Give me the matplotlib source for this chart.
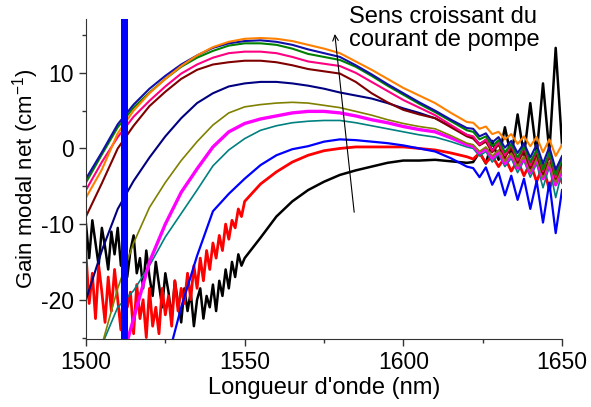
import numpy as np
import matplotlib
matplotlib.use('Agg')
import matplotlib.pyplot as plt
from matplotlib.ticker import MultipleLocator

plt.rcParams['font.family'] = ['Liberation Sans', 'DejaVu Sans']
plt.rcParams['mathtext.default'] = 'regular'
plt.rcParams['axes.unicode_minus'] = False

# longueurs d'onde (nm)
lam = [1500, 1505, 1510, 1515, 1520, 1525, 1530, 1535, 1540, 1545, 1550, 1555, 1560,
       1565, 1570, 1575, 1580, 1585, 1590, 1595, 1600, 1605, 1610, 1615, 1620]
lam_queue = [1622, 1624, 1626, 1628, 1630, 1632, 1634, 1636, 1638, 1640, 1642, 1644,
             1646, 1648, 1650]
lam_fin = np.arange(1500, 1550)

# gain modal net (cm-1), du courant le plus fort au plus faible
orange = [-6.5, -2.8, 2.0, 5.0, 7.3, 9.2, 10.9, 12.3, 13.4, 14.1, 14.5, 14.6, 14.5, 14.2,
          13.7, 13.2, 12.6, 11.5, 10.4, 9.2, 8.0, 7.0, 6.0, 4.7, 3.5]
orange_q = [3.4, 2.6, 2.9, 1.9, 2.2, 1.2, 1.9, 0.6, 1.6, 0.3, 1.5, -0.5, 1.2, -1.0, 0.5]

bleu_fonce = [-4.0, -0.5, 3.2, 5.8, 7.9, 9.6, 11.1, 12.3, 13.3, 13.9, 14.2, 14.3, 14.1,
              13.7, 13.1, 12.6, 12.1, 11.0, 9.8, 8.5, 7.3, 6.1, 5.0, 3.8, 2.7]
bleu_fonce_q = [2.6, 1.6, 2.0, 0.8, 1.5, 0.1, 1.0, -0.6, 0.7, -1.2, 0.5, -2.0, 0.2, -2.8, -1.0]

vert = [-4.5, -0.8, 2.8, 5.4, 7.4, 9.2, 10.8, 12.0, 12.9, 13.6, 13.9, 13.9, 13.7, 13.2,
        12.5, 12.1, 11.7, 10.8, 9.6, 8.3, 7.1, 5.9, 4.8, 3.6, 2.4]
vert_q = [2.2, 1.2, 1.6, 0.3, 1.1, -0.5, 0.6, -1.2, 0.3, -1.8, -0.2, -2.8, -0.5, -3.5, -1.5]

rose = [-5.5, -1.8, 1.5, 4.2, 6.3, 8.2, 9.9, 11.1, 12.0, 12.6, 12.8, 12.8, 12.6, 12.1,
        11.5, 11.2, 10.9, 10.0, 8.8, 7.6, 6.4, 5.4, 4.4, 3.1, 1.8]
rose_q = [1.6, 0.5, 1.2, -0.3, 0.8, -0.9, 0.5, -1.6, 0.2, -2.2, -0.3, -3.0, -0.6, -3.8, -1.2]

bordeaux = [-9.0, -4.6, 0.0, 3.0, 5.6, 7.5, 9.2, 10.4, 11.1, 11.4, 11.6, 11.6, 11.4, 11.0,
            10.5, 10.2, 9.9, 8.8, 7.3, 6.1, 5.1, 4.5, 4.0, 2.8, 1.6]
bordeaux_q = [1.3, 0.4, 0.9, -0.5, 0.5, -1.2, 0.1, -1.9, -0.3, -2.6, -0.8, -3.4, -1.0, -4.0, -2.0]

marine = [-20.0, -13.5, -8.0, -4.3, -1.2, 1.6, 4.0, 6.0, 7.3, 8.2, 8.6, 8.8, 8.8, 8.6,
          8.3, 7.9, 7.4, 7.0, 6.6, 6.0, 5.3, 4.7, 4.0, 2.9, 1.8]
marine_q = [1.5, 0.6, 1.1, -0.2, 0.8, -0.8, 0.4, -1.5, 0.0, -2.2, -0.5, -3.0, -0.8, -3.6, -1.8]

olive = [-32.0, -26.0, -18.5, -12.5, -7.8, -4.5, -1.6, 0.9, 3.1, 4.7, 5.5, 5.8, 6.0, 6.1,
         6.0, 5.7, 5.4, 4.9, 4.4, 3.8, 3.3, 2.9, 2.6, 1.7, 0.7]
olive_q = [0.5, -0.4, 0.2, -1.0, -0.2, -1.7, -0.6, -2.4, -1.0, -3.0, -1.4, -3.8, -1.8, -4.5, -2.6]

magenta = [-38.0, -34.0, -30.0, -22.5, -15.0, -10.0, -5.8, -2.7, 0.2, 2.2, 3.3, 3.9, 4.3,
           4.7, 4.9, 4.9, 4.7, 4.3, 3.8, 3.4, 2.9, 2.5, 2.2, 1.4, 0.5]
magenta_q = [0.3, -0.6, 0.0, -1.3, -0.4, -2.0, -0.8, -2.6, -1.2, -3.2, -1.5, -4.0, -2.0, -4.8, -2.8]

cyan = [-32.0, -26.0, -21.0, -18.8, -15.5, -11.7, -8.6, -5.5, -2.3, -0.2, 1.3, 2.4, 3.0,
        3.4, 3.6, 3.7, 3.7, 3.4, 3.0, 2.6, 2.2, 1.8, 1.5, 0.9, 0.2]
cyan_q = [0.0, -1.0, -0.4, -1.8, -0.8, -2.4, -1.3, -3.2, -1.6, -3.8, -2.0, -5.2, -2.4, -6.5, -3.0]

bleu = [-40.0, -40.0, -40.0, -40.0, -40.0, -29.0, -21.0, -14.2, -8.3, -6.0, -4.0, -2.2,
        -0.9, -0.1, 0.3, 0.9, 1.2, 1.1, 0.9, 0.7, 0.4, 0.0, -0.4, -1.3, -2.4]
bleu_q = [-2.6, -3.8, -2.5, -4.8, -3.2, -6.2, -3.6, -6.8, -4.0, -8.0, -4.3, -9.8, -4.5, -11.2, -5.5]

rouge_fin = [-14.0, -20.5, -16.5, -22.5, -15.5, -19.0, -23.0, -17.0, -21.5, -16.0,
             -20.0, -24.0, -17.5, -21.0, -19.0, -24.5, -18.0, -22.5, -20.0, -25.0,
             -18.5, -23.5, -21.0, -24.5, -18.5, -22.0, -19.5, -23.5, -17.5, -21.5,
             -18.5, -20.5, -16.5, -20.0, -15.5, -18.5, -14.5, -17.5, -13.5, -16.0,
             -12.5, -14.5, -11.5, -13.5, -10.0, -12.0, -9.5, -10.5, -8.0, -9.0]
rouge = [-7.0, -4.7, -3.1, -1.8, -0.9, -0.3, 0.0, 0.2, 0.2, 0.2, 0.2, 0.0, -0.2, -0.6, -1.1]
rouge_q = [-1.4, -0.6, -1.9, -1.0, -2.4, -1.2, -3.0, -1.6, -3.6, -1.9, -4.4, -2.2, -5.5, -2.5, -4.5]

noir_fin = [-10.0, -14.5, -9.5, -12.5, -15.5, -10.5, -13.0, -16.0, -11.0, -14.0,
            -10.5, -15.5, -12.0, -17.0, -13.5, -11.5, -16.5, -14.5, -18.5, -13.5,
            -17.0, -19.5, -15.0, -18.0, -21.0, -16.5, -19.0, -22.5, -17.5, -20.5,
            -23.0, -18.5, -21.5, -19.0, -23.5, -20.0, -18.5, -22.5, -19.5, -21.0,
            -18.0, -21.5, -17.5, -19.5, -16.0, -18.5, -15.0, -17.0, -14.0, -15.5]
noir = [-14.5, -11.8, -9.0, -7.0, -5.5, -4.4, -3.5, -2.9, -2.4, -1.9, -1.6, -1.6, -1.5, -1.7, -1.9]
noir_q = [-1.8, -0.5, -2.0, 1.0, -1.5, 2.8, -1.2, 4.5, -1.0, 6.0, -0.8, 8.6, -0.5, 13.3, 0.5]

fig = plt.figure(figsize=(5.91, 4.07), dpi=100)
ax = fig.add_axes([0.1455, 0.167, 0.8055, 0.786])

# courbes du plus faible au plus fort courant
x_bas = list(lam_fin) + lam[10:] + lam_queue
ax.plot(x_bas, noir_fin + noir + noir_q, color='black', lw=1.8)
ax.plot(x_bas, rouge_fin + rouge + rouge_q, color='#FF0000', lw=2.0)

x = lam + lam_queue
courbes = [
    (bleu + bleu_q, '#0000FF', 1.6),
    (cyan + cyan_q, '#008080', 1.2),
    (magenta + magenta_q, '#FF00FF', 2.4),
    (olive + olive_q, '#808000', 1.2),
    (marine + marine_q, '#000080', 1.5),
    (bordeaux + bordeaux_q, '#800000', 1.5),
    (rose + rose_q, '#FF0080', 1.5),
    (vert + vert_q, '#008000', 1.5),
    (bleu_fonce + bleu_fonce_q, '#1010A8', 1.5),
    (orange + orange_q, '#FF8000', 1.5),
]
for y, c, lw in courbes:
    ax.plot(x, y, color=c, lw=lw)

# barre verticale
ax.axvspan(1511.0, 1513.2, color='#0000FF', lw=0, zorder=5)

# flèche
ax.annotate('', xy=(1578.3, 15.5), xytext=(1584.6, -8.8),
            arrowprops=dict(arrowstyle='->', lw=0.8, color='black'))
ax.text(1583, 18.9, 'Sens croissant du\ncourant de pompe', fontsize=17,
        ha='left', va='top', linespacing=1.1, clip_on=False)

ax.set_xlim(1500, 1650)
ax.set_ylim(-25.2, 17.1)
ax.xaxis.set_major_locator(MultipleLocator(50))
ax.xaxis.set_minor_locator(MultipleLocator(25))
ax.yaxis.set_major_locator(MultipleLocator(10))
ax.yaxis.set_minor_locator(MultipleLocator(5))
ax.tick_params(which='major', length=5, width=1, labelsize=16.5, color='#333333')
ax.tick_params(which='minor', length=3, width=1, color='#333333')

for s in ['top', 'right']:
    ax.spines[s].set_visible(False)
for s in ['left', 'bottom']:
    ax.spines[s].set_color('#333333')

ax.set_xlabel("Longueur d'onde (nm)", fontsize=17, labelpad=2)
ax.set_ylabel('Gain modal net (cm$^{-1}$)', fontsize=16, labelpad=0)

fig.savefig('out.png', dpi=100)
